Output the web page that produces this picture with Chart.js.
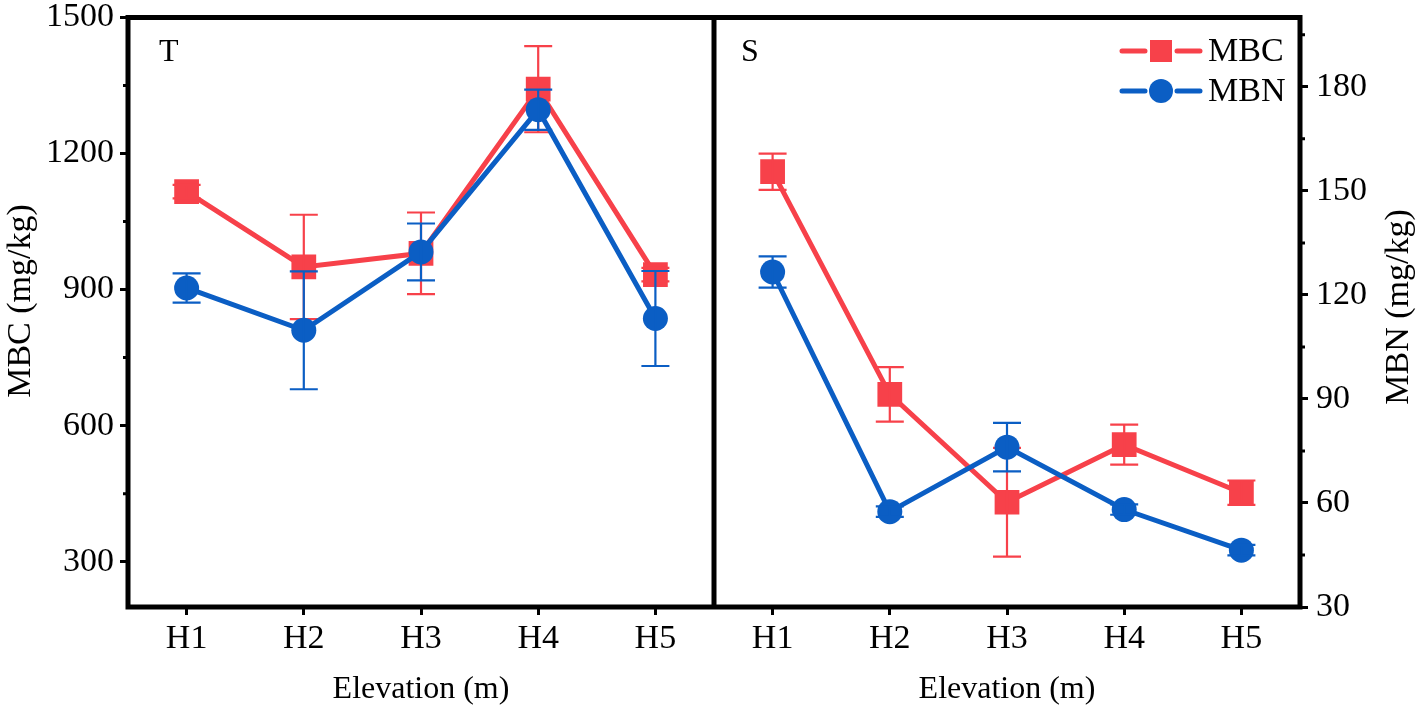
<!DOCTYPE html>
<html>
<head>
<meta charset="utf-8">
<title>MBC / MBN by elevation</title>
<script src="https://cdn.jsdelivr.net/npm/chart.js@4.4.1/dist/chart.umd.min.js"></script>
<style>
    html, body { margin: 0; padding: 0; background: #fff; }
    #wrap { width: 1418px; height: 715px; }
</style>
</head>
<body>
<div id="wrap"><canvas id="elevChart" width="1418" height="715"></canvas></div>
<script>
// Sites along the elevation gradient, shown once per panel
const sites = ['H1', 'H2', 'H3', 'H4', 'H5'];
const panelNames = ['T', 'S'];

// Panel T
const mbcT = [1116, 950, 980, 1342, 933];
const mbcTErr = [15, 115, 90, 95, 15];
const mbnT = [122.0, 109.8, 132.4, 173.4, 113.2];
const mbnTErr = [4.2, 17.0, 8.2, 5.8, 13.7];

// Panel S
const mbcS = [1160, 669, 431, 558, 452];
const mbcSErr = [40, 60, 120, 44, 27];
const mbnS = [126.6, 57.5, 76.1, 58.1, 46.4];
const mbnSErr = [4.5, 1.5, 7.0, 1.5, 1.5];

// Axis ticks
const mbcTicks = [300, 600, 900, 1200, 1500];
const mbcMinor = [450, 750, 1050, 1350];
const mbnTicks = [30, 60, 90, 120, 150, 180];
const mbnMinor = [45, 75, 105, 135, 165, 195];

const RED = '#F7414A';
const BLUE = '#0B5EC4';
const FONT = "'Liberation Serif', 'Times New Roman', serif";

const blank = sites.map(() => null);
const labels = sites.concat(sites);

function seriesDataset(label, values, errors, axis, color, shape, radius) {
    return {
        label: label,
        data: values,
        errors: errors,
        yAxisID: axis,
        borderColor: color,
        backgroundColor: color,
        borderWidth: 5,
        borderCapStyle: 'round',
        pointStyle: shape,
        pointRadius: radius,
        pointBorderWidth: 0,
        pointBackgroundColor: color,
        tension: 0
    };
}

// error bars drawn right after each dataset, through its y scale
const errorBars = {
    id: 'errorBars',
    afterDatasetDraw(chart, args) {
        const ds = chart.data.datasets[args.index];
        if (!ds.errors) return;
        const scale = chart.scales[ds.yAxisID];
        const ctx = chart.ctx;
        const cap = 14;
        ctx.save();
        ctx.strokeStyle = ds.borderColor;
        ctx.lineWidth = 2.2;
        args.meta.data.forEach((pt, i) => {
            const v = ds.data[i];
            const e = ds.errors[i];
            if (v == null || e == null) return;
            const yTop = scale.getPixelForValue(v + e);
            const yBot = scale.getPixelForValue(v - e);
            ctx.beginPath();
            ctx.moveTo(pt.x, yTop);
            ctx.lineTo(pt.x, yBot);
            ctx.moveTo(pt.x - cap, yTop);
            ctx.lineTo(pt.x + cap, yTop);
            ctx.moveTo(pt.x - cap, yBot);
            ctx.lineTo(pt.x + cap, yBot);
            ctx.stroke();
        });
        ctx.restore();
    }
};

// frame, panel divider, minor ticks, titles, panel letters and legend
const decorations = {
    id: 'decorations',
    afterDraw(chart) {
        const ctx = chart.ctx;
        const area = chart.chartArea;
        const xs = chart.scales.x;
        const yL = chart.scales.yL;
        const yR = chart.scales.yR;
        const midX = (xs.getPixelForValue(4) + xs.getPixelForValue(5)) / 2;

        ctx.save();
        ctx.strokeStyle = '#000';
        ctx.lineWidth = 5;
        ctx.strokeRect(area.left, area.top, area.right - area.left, area.bottom - area.top);
        ctx.beginPath();
        ctx.moveTo(midX, area.top);
        ctx.lineTo(midX, area.bottom);
        ctx.stroke();

        // minor ticks
        ctx.lineWidth = 3;
        ctx.beginPath();
        mbcMinor.forEach(v => {
            const y = yL.getPixelForValue(v);
            ctx.moveTo(area.left, y);
            ctx.lineTo(area.left - 5, y);
        });
        mbnMinor.forEach(v => {
            const y = yR.getPixelForValue(v);
            ctx.moveTo(area.right, y);
            ctx.lineTo(area.right + 5, y);
        });
        ctx.stroke();

        // axis titles
        ctx.fillStyle = '#000';
        ctx.font = '34px ' + FONT;
        ctx.textAlign = 'center';
        ctx.textBaseline = 'middle';
        [[21, 301, 'MBC (mg/kg)'], [1399, 307, 'MBN (mg/kg)']].forEach(([x, y, txt]) => {
            ctx.save();
            ctx.translate(x, y);
            ctx.rotate(-Math.PI / 2);
            ctx.fillText(txt, 0, 0);
            ctx.restore();
        });
        ctx.font = '32px ' + FONT;
        ctx.fillText('Elevation (m)', (area.left + midX) / 2, 690);
        ctx.fillText('Elevation (m)', (midX + area.right) / 2, 690);

        // panel letters
        ctx.textAlign = 'left';
        ctx.font = '32px ' + FONT;
        ctx.fillText(panelNames[0], area.left + 31, 53);
        ctx.fillText(panelNames[1], midX + 27, 53);

        // legend
        const items = [
            { text: 'MBC', color: RED, shape: 'rect', y: 51 },
            { text: 'MBN', color: BLUE, shape: 'circle', y: 91 }
        ];
        items.forEach(it => {
            ctx.strokeStyle = it.color;
            ctx.fillStyle = it.color;
            ctx.lineWidth = 5;
            ctx.lineCap = 'round';
            ctx.beginPath();
            ctx.moveTo(1122, it.y);
            ctx.lineTo(1145, it.y);
            ctx.moveTo(1177, it.y);
            ctx.lineTo(1200, it.y);
            ctx.stroke();
            ctx.beginPath();
            if (it.shape === 'rect') {
                ctx.rect(1150, it.y - 11, 22, 22);
            } else {
                ctx.arc(1161, it.y, 12, 0, Math.PI * 2);
            }
            ctx.fill();
            ctx.fillStyle = '#000';
            ctx.font = '34px ' + FONT;
            ctx.fillText(it.text, 1208, it.y + 1);
        });
        ctx.restore();
    }
};

function fixWidth(w) {
    return function(scale) {
        scale.width = w;
        scale.paddingTop = 0;
        scale.paddingBottom = 0;
    };
}

const tickFont = { family: FONT, size: 34 };
const tickGrid = {
    display: true,
    drawOnChartArea: false,
    drawTicks: true,
    tickLength: 8,
    tickWidth: 3,
    tickColor: '#000',
    offset: false
};

new Chart(document.getElementById('elevChart'), {
    type: 'line',
    data: {
        labels: labels,
        datasets: [
            seriesDataset('MBN', mbnT.concat(blank), mbnTErr.concat(blank), 'yR', BLUE, 'circle', 12.5),
            seriesDataset('MBN', blank.concat(mbnS), blank.concat(mbnSErr), 'yR', BLUE, 'circle', 12.5),
            seriesDataset('MBC', mbcT.concat(blank), mbcTErr.concat(blank), 'yL', RED, 'rect', 17.5),
            seriesDataset('MBC', blank.concat(mbcS), blank.concat(mbcSErr), 'yL', RED, 'rect', 17.5)
        ]
    },
    options: {
        responsive: false,
        animation: false,
        devicePixelRatio: 1,
        layout: { padding: { top: 14, left: 0, right: 0, bottom: 0 } },
        plugins: {
            legend: { display: false },
            tooltip: { enabled: false }
        },
        scales: {
            x: {
                type: 'category',
                offset: true,
                grid: tickGrid,
                border: { display: false },
                ticks: {
                    color: '#000',
                    font: tickFont,
                    padding: 4,
                    maxRotation: 0,
                    autoSkip: false
                },
                afterFit(scale) {
                    scale.height = 108;
                    scale.paddingLeft = 0;
                    scale.paddingRight = 0;
                }
            },
            yL: {
                type: 'linear',
                position: 'left',
                min: 200,
                max: 1500,
                grid: tickGrid,
                border: { display: false },
                ticks: {
                    color: '#000',
                    font: tickFont,
                    padding: 6,
                    callback: v => String(v)
                },
                afterBuildTicks(scale) {
                    scale.ticks = mbcTicks.map(v => ({ value: v }));
                },
                afterFit: fixWidth(128)
            },
            yR: {
                type: 'linear',
                position: 'right',
                min: 30,
                max: 200,
                grid: tickGrid,
                border: { display: false },
                ticks: {
                    color: '#000',
                    font: tickFont,
                    padding: 8,
                    callback: v => String(v)
                },
                afterBuildTicks(scale) {
                    scale.ticks = mbnTicks.map(v => ({ value: v }));
                },
                afterFit: fixWidth(118)
            }
        }
    },
    plugins: [errorBars, decorations]
});
</script>
</body>
</html>
